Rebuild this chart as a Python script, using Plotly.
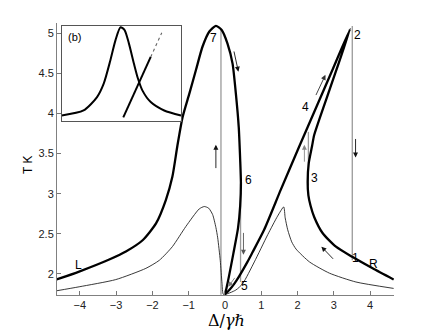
import plotly.graph_objects as go

# ---------------- data ----------------
# thick curve (bistable response), traced in order along the curve
thick_x = [-4.65, -4.02, -3.19, -2.73, -2.27, -1.90, -1.63, -1.45, -1.31, -1.17, -0.98,
           -0.80, -0.62, -0.43, -0.25, -0.09, 0.07, 0.21, 0.30, 0.38, 0.42, 0.44,
           0.42, 0.36, 0.23, 0.11, 0.04, 0.00,
           0.12, 0.26, 0.39, 0.62, 0.76, 1.08, 1.54, 2.05, 2.52, 2.98, 3.45,
           2.88, 2.46, 2.40, 2.31, 2.28, 2.30, 2.36, 2.46, 2.69, 3.06, 3.52, 4.07, 4.65]
thick_y = [1.93, 2.03, 2.18, 2.28, 2.42, 2.63, 2.92, 3.21, 3.60, 3.95, 4.25,
           4.54, 4.83, 5.02, 5.09, 5.04, 4.87, 4.62, 4.25, 3.83, 3.42, 3.13,
           2.85, 2.57, 2.25, 1.97, 1.82, 1.745,
           1.80, 1.88, 1.97, 2.15, 2.27, 2.55, 3.05, 3.59, 4.08, 4.56, 5.05,
           4.29, 3.73, 3.59, 3.38, 3.15, 2.98, 2.85, 2.71, 2.51, 2.34, 2.21, 2.07, 1.93]

# thin curve
thin_x = [-4.65, -4.02, -3.01, -2.18, -1.81, -1.45, -1.08, -0.71, -0.57, -0.45, -0.34,
          -0.25, -0.20, -0.13, -0.08, -0.04,
          0.30, 0.49, 0.81, 1.18, 1.45, 1.62,
          1.66, 1.73, 1.84, 1.96, 2.33, 2.88, 3.61, 4.65]
thin_y = [1.79, 1.84, 1.93, 2.07, 2.17, 2.34, 2.59, 2.81, 2.84, 2.82, 2.74,
          2.58, 2.45, 2.17, 1.88, 1.745,
          1.80, 1.88, 2.15, 2.49, 2.72, 2.835,
          2.70, 2.55, 2.40, 2.31, 2.15, 2.01, 1.90, 1.82]

# grey vertical jump lines: x position, bottom, top
jump_x = [-0.11, 3.51, 0.43, 2.30]
jump_lo = [1.74, 2.17, 1.90, 3.10]
jump_hi = [5.04, 5.09, 3.13, 3.77]

# arrows: tail (x0,y0) -> head (x1,y1)
arr_x0 = [0.24, -0.25, 0.51, 0.30, 2.19, 2.49, 3.60, 3.02]
arr_y0 = [4.79, 3.30, 2.53, 1.97, 3.38, 4.21, 3.70, 2.17]
arr_x1 = [0.37, -0.25, 0.51, 0.09, 2.19, 2.77, 3.60, 2.66]
arr_y1 = [4.52, 3.61, 2.24, 1.84, 3.61, 4.48, 3.45, 2.34]
arr_col = ["#111", "#111", "#555", "#777", "#888", "#333", "#111", "#111"]

# point labels
lab_text = ["7", "6", "5", "4", "3", "2", "1", "R", "L"]
lab_x = [-0.32, 0.66, 0.54, 2.21, 2.48, 3.66, 3.61, 4.09, -4.04]
lab_y = [4.94, 3.17, 1.85, 4.08, 3.19, 4.98, 2.20, 2.12, 2.11]

# inset (b) curves, inset-frame units
in_peak_u = [0.0, 0.183, 0.296, 0.352, 0.408, 0.451, 0.493, 0.527, 0.563, 0.605, 0.639,
             0.676, 0.746, 0.859, 1.0]
in_peak_v = [0.053, 0.106, 0.248, 0.390, 0.638, 0.851, 0.986, 0.957, 0.816, 0.603, 0.444,
             0.319, 0.195, 0.106, 0.053]
in_line_u = [0.516, 0.746]
in_line_v = [0.034, 0.673]
in_dot_u = [0.746, 0.839]
in_dot_v = [0.673, 0.929]

x_ticks = [-4, -3, -2, -1, 0, 1, 2, 3, 4]
y_ticks = [2, 2.5, 3, 3.5, 4, 4.5, 5]
y_ticktext = ["2", "2.5", "3", "3.5", "4", "4.5", "5"]

# ---------------- figure ----------------
fig = go.Figure()

for xv, lo, hi in zip(jump_x, jump_lo, jump_hi):
    fig.add_trace(go.Scatter(x=[xv, xv], y=[lo, hi], mode="lines",
                             line=dict(color="#9a9a9a", width=1.3),
                             hoverinfo="skip", showlegend=False))

fig.add_trace(go.Scatter(x=thin_x, y=thin_y, mode="lines",
                         line=dict(color="#222", width=0.9, shape="spline", smoothing=0.6),
                         showlegend=False))
fig.add_trace(go.Scatter(x=thick_x, y=thick_y, mode="lines",
                         line=dict(color="black", width=2.3, shape="spline", smoothing=0.6),
                         showlegend=False))

# inset traces
fig.add_trace(go.Scatter(x=in_peak_u, y=in_peak_v, mode="lines", xaxis="x2", yaxis="y2",
                         line=dict(color="black", width=2, shape="spline", smoothing=0.7),
                         showlegend=False))
fig.add_trace(go.Scatter(x=in_line_u, y=in_line_v, mode="lines", xaxis="x2", yaxis="y2",
                         line=dict(color="black", width=2), showlegend=False))
fig.add_trace(go.Scatter(x=in_dot_u, y=in_dot_v, mode="lines", xaxis="x2", yaxis="y2",
                         line=dict(color="#666", width=1.1, dash="dot"), showlegend=False))

annotations = []
for x0, y0, x1, y1, c in zip(arr_x0, arr_y0, arr_x1, arr_y1, arr_col):
    annotations.append(dict(x=x1, y=y1, ax=x0, ay=y0, xref="x", yref="y",
                            axref="x", ayref="y", text="", showarrow=True,
                            arrowhead=2, arrowsize=1.1, arrowwidth=0.9, arrowcolor=c))
for t, xv, yv in zip(lab_text, lab_x, lab_y):
    annotations.append(dict(x=xv, y=yv, xref="x", yref="y", text=t, showarrow=False,
                            font=dict(family="Liberation Sans, Arial", size=12, color="black")))

annotations.append(dict(x=0.103, y=0.887, xref="x2", yref="y2", text="(b)", showarrow=False,
                        font=dict(family="Liberation Sans, Arial", size=11, color="black")))
annotations.append(dict(x=0.504, y=-0.092, xref="paper", yref="paper",
                        xanchor="center", yanchor="middle",
                        text="Δ/<i>γℏ</i>", showarrow=False,
                        font=dict(family="DejaVu Serif, Liberation Serif", size=16, color="black")))
annotations.append(dict(x=-0.086, y=0.478, xref="paper", yref="paper", text="T K",
                        xanchor="center", yanchor="middle",
                        textangle=-90, showarrow=False,
                        font=dict(family="Liberation Sans, Arial", size=12, color="black")))

fig.update_layout(
    width=436, height=334,
    margin=dict(l=57, r=42, t=23, b=39),
    paper_bgcolor="white", plot_bgcolor="white",
    showlegend=False, hovermode=False,
    font=dict(family="Liberation Sans, Arial", size=11, color="#222"),
    xaxis=dict(range=[-4.63, 4.66], tickvals=x_ticks, ticks="inside", ticklen=4,
               tickcolor="#777", showline=True, linecolor="#808080", linewidth=1,
               showgrid=False, zeroline=False, tickfont=dict(size=11), automargin=False),
    yaxis=dict(range=[1.738, 5.126], tickvals=y_ticks, ticktext=y_ticktext,
               ticks="inside", ticklen=4, tickcolor="#777", showline=True,
               linecolor="#808080", linewidth=1, showgrid=False, zeroline=False,
               tickfont=dict(size=11), automargin=False),
    xaxis2=dict(domain=[0.014, 0.368], range=[0, 1], anchor="y2", showticklabels=False,
                ticks="", showgrid=False, zeroline=False, showline=True, mirror=True,
                linecolor="#555", linewidth=1, automargin=False),
    yaxis2=dict(domain=[0.6415, 0.989], range=[0, 1], anchor="x2", showticklabels=False,
                ticks="", showgrid=False, zeroline=False, showline=True, mirror=True,
                linecolor="#555", linewidth=1, automargin=False),
    annotations=annotations,
)

fig.write_html("out.html", config={"displayModeBar": False},
               post_script="document.body.style.margin='0';")
